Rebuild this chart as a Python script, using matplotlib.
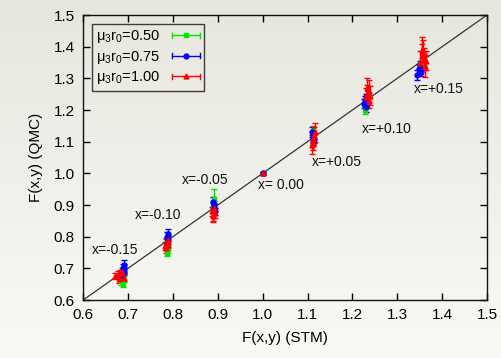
import numpy as np
import matplotlib
matplotlib.use("Agg")
import matplotlib.pyplot as plt
from matplotlib.lines import Line2D
from matplotlib.legend_handler import HandlerBase

plt.rcParams['font.family'] = ['Liberation Sans', 'DejaVu Sans']
plt.rcParams['mathtext.fontset'] = 'custom'
plt.rcParams['mathtext.rm'] = 'Liberation Sans'
plt.rcParams['mathtext.it'] = 'Liberation Sans:italic'

# STM vs QMC values, one list per x-cluster, for each mu3*r0 value
# mu3 r0 = 0.50
stm_050 = [0.685, 0.688, 0.690, 0.687, 0.689,
           0.786, 0.788, 0.787, 0.785,
           0.892, 0.890, 0.891,
           1.000,
           1.112, 1.114, 1.113,
           1.228, 1.230, 1.229,
           1.350, 1.352]
qmc_050 = [0.660, 0.650, 0.670, 0.680, 0.690,
           0.750, 0.760, 0.770, 0.780,
           0.920, 0.900, 0.885,
           1.000,
           1.100, 1.120, 1.135,
           1.200, 1.210, 1.220,
           1.330, 1.340]
err_050 = [0.012, 0.010, 0.012, 0.010, 0.012,
           0.010, 0.012, 0.010, 0.012,
           0.030, 0.012, 0.010,
           0.004,
           0.015, 0.012, 0.015,
           0.012, 0.015, 0.012,
           0.012, 0.015]

# mu3 r0 = 0.75
stm_075 = [0.688, 0.690, 0.692, 0.686, 0.691,
           0.787, 0.789, 0.786, 0.790,
           0.890, 0.892, 0.891, 0.893,
           1.000,
           1.111, 1.113, 1.115, 1.112,
           1.226, 1.228, 1.230, 1.231,
           1.345, 1.348, 1.350, 1.352]
qmc_075 = [0.700, 0.690, 0.710, 0.680, 0.700,
           0.800, 0.790, 0.780, 0.810,
           0.910, 0.900, 0.890, 0.880,
           1.000,
           1.130, 1.120, 1.110, 1.100,
           1.220, 1.230, 1.240, 1.210,
           1.310, 1.330, 1.340, 1.320]
err_075 = [0.015, 0.012, 0.015, 0.012, 0.015,
           0.015, 0.012, 0.012, 0.015,
           0.015, 0.012, 0.012, 0.012,
           0.004,
           0.015, 0.012, 0.015, 0.012,
           0.015, 0.015, 0.012, 0.015,
           0.015, 0.015, 0.015, 0.012]

# mu3 r0 = 1.00
stm_100 = [0.672, 0.678, 0.683, 0.687, 0.690, 0.680,
           0.782, 0.785, 0.788, 0.790, 0.784,
           0.887, 0.889, 0.891, 0.893, 0.890,
           1.000,
           1.110, 1.112, 1.114, 1.116, 1.113,
           1.230, 1.233, 1.236, 1.238, 1.232, 1.240,
           1.350, 1.355, 1.358, 1.360, 1.365, 1.362, 1.356]
qmc_100 = [0.675, 0.680, 0.685, 0.690, 0.670, 0.665,
           0.770, 0.780, 0.790, 0.775, 0.765,
           0.880, 0.870, 0.890, 0.875, 0.865,
           1.000,
           1.090, 1.110, 1.120, 1.130, 1.100,
           1.240, 1.250, 1.260, 1.230, 1.270, 1.245,
           1.350, 1.370, 1.380, 1.360, 1.355, 1.340, 1.390]
err_100 = [0.010, 0.012, 0.010, 0.012, 0.010, 0.010,
           0.012, 0.015, 0.012, 0.012, 0.015,
           0.015, 0.020, 0.015, 0.015, 0.020,
           0.004,
           0.030, 0.025, 0.025, 0.030, 0.025,
           0.030, 0.030, 0.035, 0.025, 0.030, 0.030,
           0.035, 0.040, 0.040, 0.035, 0.030, 0.035, 0.040]

series = [
    (stm_050, qmc_050, err_050, '#00e600', 's', r'$\mathrm{μ_3r_0}$=0.50'),
    (stm_075, qmc_075, err_075, '#0000ff', 'o', r'$\mathrm{μ_3r_0}$=0.75'),
    (stm_100, qmc_100, err_100, '#ff0000', '^', r'$\mathrm{μ_3r_0}$=1.00'),
]

cluster_labels = ['x=-0.15', 'x=-0.10', 'x=-0.05', 'x= 0.00',
                  'x=+0.05', 'x=+0.10', 'x=+0.15']
label_x = [0.620, 0.716, 0.820, 0.990, 1.110, 1.221, 1.337]
label_y = [0.757, 0.868, 0.979, 0.963, 1.036, 1.140, 1.266]

ticks = [0.6, 0.7, 0.8, 0.9, 1.0, 1.1, 1.2, 1.3, 1.4, 1.5]


class HorizontalBarHandler(HandlerBase):
    """Legend key: horizontal bar with end caps and a centred marker."""
    def create_artists(self, legend, orig_handle, xdescent, ydescent,
                       width, height, fontsize, trans):
        col = orig_handle.get_color()
        mk = orig_handle.get_marker()
        y = height / 2 - ydescent
        x0, x1 = -xdescent, width - xdescent
        cap = height * 0.25
        bar = Line2D([x0, x1], [y, y], color=col, lw=1.0, transform=trans)
        c0 = Line2D([x0, x0], [y - cap, y + cap], color=col, lw=1.0, transform=trans)
        c1 = Line2D([x1, x1], [y - cap, y + cap], color=col, lw=1.0, transform=trans)
        m = Line2D([(x0 + x1) / 2], [y], marker=mk, color=col, ms=3.5,
                   ls='none', transform=trans)
        return [bar, c0, c1, m]


fig = plt.figure(figsize=(5.01, 3.58), dpi=100)

# soft vertical background gradient
bg = fig.add_axes([0, 0, 1, 1], zorder=-10)
grad = np.linspace(0, 1, 256).reshape(-1, 1)
top = np.array([0.906, 0.902, 0.871])
bot = np.array([0.976, 0.976, 0.965])
img = top[None, None, :] * (1 - grad[:, :, None]) + bot[None, None, :] * grad[:, :, None]
bg.imshow(img, aspect='auto', extent=[0, 1, 0, 1])
bg.axis('off')

ax = fig.add_axes([0.166, 0.162, 0.806, 0.796])
ax.set_facecolor('none')

ax.plot([0.6, 1.5], [0.6, 1.5], color='#333333', lw=0.9, zorder=1)

handles = []
for xs, ys, es, col, mk, lab in series:
    ax.errorbar(xs, ys, yerr=es, fmt=mk, color=col, ms=3.5, lw=1.0,
                capsize=2, capthick=1.0, zorder=3)
    handles.append(Line2D([], [], color=col, marker=mk, label=lab))

for t, lx, ly in zip(cluster_labels, label_x, label_y):
    ax.text(lx, ly, t, fontsize=10, color='#111111', va='center', ha='left')

ax.set_xlim(0.6, 1.5)
ax.set_ylim(0.6, 1.5)
ax.set_xticks(ticks)
ax.set_yticks(ticks)
ax.set_xticklabels([f'{t:.1f}' for t in ticks])
ax.set_yticklabels([f'{t:.1f}' for t in ticks])
ax.tick_params(direction='in', top=True, right=True, length=5, width=1,
               labelsize=11, pad=6)
for s in ax.spines.values():
    s.set_linewidth(1.0)
    s.set_color('#111111')

ax.set_xlabel('F(x,y) (STM)', fontsize=11, labelpad=6)
ax.set_ylabel('F(x,y) (QMC)', fontsize=11, labelpad=8)

leg = ax.legend(handles=handles, loc='upper left', markerfirst=False,
                fontsize=10.5, frameon=True, fancybox=False,
                edgecolor='#111111', handlelength=1.9, borderpad=0.3,
                labelspacing=0.25, handletextpad=0.8, borderaxespad=0.6,
                handler_map={Line2D: HorizontalBarHandler()})
leg.get_frame().set_facecolor('none')
leg.get_frame().set_linewidth(1.0)

fig.savefig('out.png', dpi=100)
